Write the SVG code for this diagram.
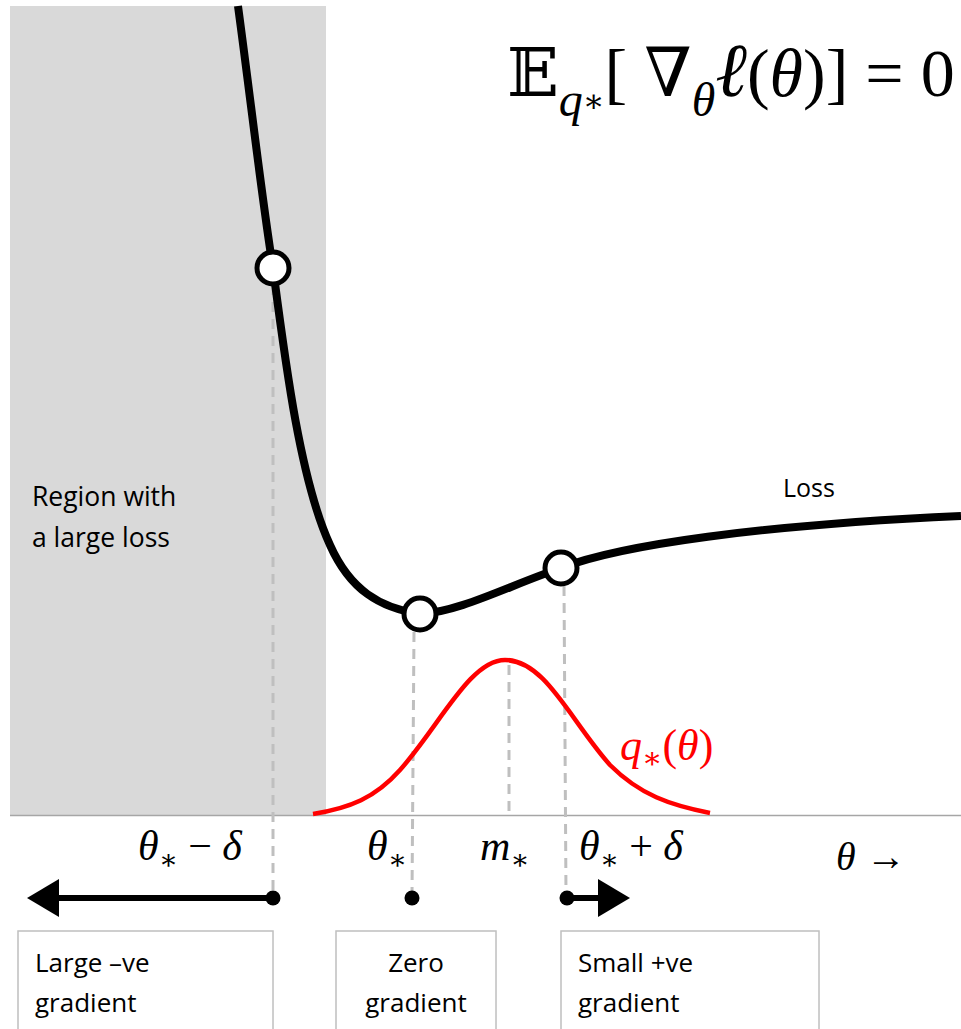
<svg xmlns="http://www.w3.org/2000/svg" width="961" height="1029" viewBox="0 0 961 1029">
<style>
.math{font-family:"Liberation Serif","DejaVu Serif",serif;fill:#000}
.it{font-style:italic}
.lbl{font-family:"Open Sans","Liberation Sans",sans-serif;fill:#000}
.dash{stroke:#bfbfbf;stroke-width:3;stroke-dasharray:10,7;fill:none}
.box{fill:#fff;stroke:#bfbfbf;stroke-width:1.5}
.pt{fill:#fff;stroke:#000;stroke-width:5}
</style>
<defs>
<marker id="ah" markerWidth="32" markerHeight="38" refX="2" refY="19" orient="auto" markerUnits="userSpaceOnUse">
<path d="M0,0 L32,19 L0,38 z" fill="#000"/>
</marker>
</defs>
<rect width="961" height="1029" fill="#fff"/>
<g id="region">
<rect x="10" y="6" width="316" height="809" fill="#d9d9d9"/>
<text class="lbl" x="32" y="506" font-size="26.5">Region with</text>
<text class="lbl" x="32" y="547" font-size="26.5">a large loss</text>
</g>
<g id="axis">
<line x1="10" y1="815.5" x2="961" y2="815.5" stroke="#a6a6a6" stroke-width="1.5"/>
</g>
<g id="connectors">
<line class="dash" x1="273" y1="285" x2="273" y2="895"/>
<line class="dash" x1="414" y1="632" x2="412" y2="895"/>
<line class="dash" x1="509" y1="665" x2="509" y2="815"/>
<line class="dash" x1="564" y1="586" x2="566" y2="895"/>
<line x1="273" y1="898" x2="57" y2="898" stroke="#000" stroke-width="6" marker-end="url(#ah)"/>
<line x1="567" y1="898" x2="600" y2="898" stroke="#000" stroke-width="6" marker-end="url(#ah)"/>
<circle cx="273" cy="898" r="7.5" fill="#000"/>
<circle cx="412" cy="898" r="7.5" fill="#000"/>
<circle cx="567" cy="898" r="7.5" fill="#000"/>
</g>
<g id="loss">
<path d="M238,6 C252,110 262,200 273,268 C285,360 300,480 330,545 C350,590 380,608 420,614 C460,612 510,585 561,568 C620,545 760,525 961,516" fill="none" stroke="#000" stroke-width="8"/>
<text class="lbl" x="783" y="497" font-size="25">Loss</text>
</g>
<g id="q">
<path d="M313,814 C350,808 375,798 400,770 C440,725 470,660 505,660 C545,660 570,720 610,765 C640,795 670,805 710,813" fill="none" stroke="#ff0000" stroke-width="4.5"/>
<text class="math" x="620" y="760" font-size="44" style="fill:#ff0000"><tspan class="it">q</tspan><tspan dy="8" font-size="30">∗</tspan><tspan dy="-8">(</tspan><tspan class="it">θ</tspan>)</text>
</g>
<g id="points">
<circle class="pt" cx="273" cy="268" r="16"/>
<circle class="pt" cx="420" cy="614" r="16"/>
<circle class="pt" cx="561" cy="568" r="16"/>
</g>
<g id="formula">
<text class="math" x="507" y="96" font-size="68">𝔼<tspan dy="20" font-size="48" class="it">q</tspan><tspan dy="-4" font-size="32">∗</tspan><tspan dy="-16">[ ∇</tspan><tspan dy="20" font-size="48" class="it">θ</tspan><tspan dy="-20" class="it" font-size="76">ℓ</tspan>(<tspan class="it">θ</tspan>)] = 0</text>
</g>
<g id="ticks">
<text class="math" x="138" y="860" font-size="42"><tspan class="it">θ</tspan><tspan dy="9" font-size="28">∗</tspan><tspan dy="-9"> − </tspan><tspan class="it">δ</tspan></text>
<text class="math" x="367" y="860" font-size="42"><tspan class="it">θ</tspan><tspan dy="9" font-size="28">∗</tspan></text>
<text class="math" x="480" y="860" font-size="42"><tspan class="it">m</tspan><tspan dy="9" font-size="28">∗</tspan></text>
<text class="math" x="579" y="860" font-size="42"><tspan class="it">θ</tspan><tspan dy="9" font-size="28">∗</tspan><tspan dy="-9"> + </tspan><tspan class="it">δ</tspan></text>
<text class="math" x="836" y="870" font-size="40"><tspan class="it">θ</tspan> →</text>
</g>
<g id="box1">
<rect class="box" x="18" y="931" width="255" height="110"/>
<text class="lbl" x="35" y="972" font-size="26">Large –ve</text>
<text class="lbl" x="35" y="1012" font-size="26">gradient</text>
</g>
<g id="box2">
<rect class="box" x="336" y="931" width="160" height="110"/>
<text class="lbl" x="416" y="972" font-size="26" text-anchor="middle">Zero</text>
<text class="lbl" x="416" y="1012" font-size="26" text-anchor="middle">gradient</text>
</g>
<g id="box3">
<rect class="box" x="561" y="931" width="258" height="110"/>
<text class="lbl" x="578" y="972" font-size="26">Small +ve</text>
<text class="lbl" x="578" y="1012" font-size="26">gradient</text>
</g>
</svg>
